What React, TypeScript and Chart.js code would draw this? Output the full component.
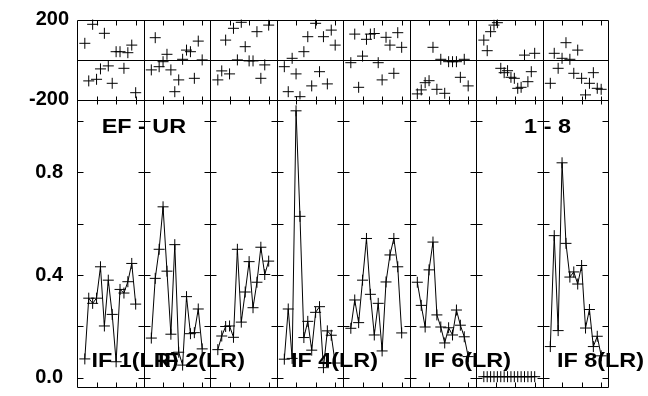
import React, { useEffect, useRef } from 'react';
import { Chart, registerables } from 'chart.js';

Chart.register(...registerables);

// ---------- data ----------
const IF_LABELS = ['IF 1(LR)', 'IF 2(LR)', '', 'IF 4(LR)', '', 'IF 6(LR)', '', 'IF 8(LR)'];
const TITLE_LEFT = 'EF - UR';
const TITLE_RIGHT = '1 - 8';

// channel layout per IF column (channel units)
const COLUMN_SPAN = 17;
const FIRST_CHANNEL = 2;
const CHANNEL_STEP = [1, 1, 1, 1, 1, 1, 0.8667, 1];
const X_MINOR_TICKS = [5, 10, 15];

// residuals (top panel)
const RES_IF1 = [81, -107, 176, -99, -47, 131, -32, -119, 39, 39, -44, 34, 72, -166];
const RES_IF2 = [-52, 109, -36, -11, 26, -52, -161, -102, 1, 47, 39, -94, 92, -2];
const RES_IF3 = [-102, -57, 97, -72, 156, -2, 186, 64, -7, -7, 139, -94, -27, 172];
const RES_IF4 = [-36, -161, 6, -72, -186, 39, 114, -132, 181, -61, 114, -122, 147, 72];
const RES_IF5 = [-16, 127, -139, 17, 101, 127, 130, -16, -102, 111, 72, -69, 134, 61];
const RES_IF6 = [-172, -152, -116, -106, 61, -149, 1, -169, -11, -11, -11, -89, 1, -132];
const RES_IF7 = [97, 44, 139, 172, 184, -44, -66, -56, -89, -94, -144, -139, 22, -111, -61, 31];
const RES_IF8 = [-119, 31, -44, 6, 84, 1, -69, 47, -94, -177, -119, -66, -144, -149];

// amplitudes (bottom panel)
const AMP_IF1 = [0.074, 0.31, 0.29, 0.31, 0.432, 0.202, 0.38, 0.247, 0.063, 0.344, 0.33, 0.374, 0.445, 0.287];
const AMP_IF2 = [0.155, 0.387, 0.5, 0.665, 0.415, 0.17, 0.518, 0.1, 0.05, 0.316, 0.172, 0.176, 0.268, 0.113];
const AMP_IF3 = [0.11, 0.163, 0.2, 0.202, 0.158, 0.5, 0.217, 0.334, 0.452, 0.273, 0.372, 0.508, 0.402, 0.454];
const AMP_IF4 = [0.073, 0.268, 0.076, 1.038, 0.628, 0.157, 0.22, 0.108, 0.255, 0.277, 0.04, 0.183, 0.166, 0.058];
const AMP_IF5 = [0.193, 0.303, 0.215, 0.38, 0.542, 0.325, 0.167, 0.29, 0.105, 0.373, 0.478, 0.542, 0.432, 0.175];
const AMP_IF6 = [0.372, 0.282, 0.198, 0.42, 0.528, 0.245, 0.198, 0.136, 0.195, 0.167, 0.264, 0.205, 0.16, 0.083];
const AMP_IF7 = [0.005, 0.005, 0.005, 0.005, 0.005, 0.005, 0.005, 0.005, 0.005, 0.005, 0.005, 0.005, 0.005, 0.005, 0.005, 0.005];
const AMP_IF8 = [0.122, 0.553, 0.184, 0.836, 0.523, 0.392, 0.412, 0.365, 0.437, 0.194, 0.266, 0.122, 0.162, 0.086];

const RESIDUALS = [RES_IF1, RES_IF2, RES_IF3, RES_IF4, RES_IF5, RES_IF6, RES_IF7, RES_IF8];
const AMPLITUDES = [AMP_IF1, AMP_IF2, AMP_IF3, AMP_IF4, AMP_IF5, AMP_IF6, AMP_IF7, AMP_IF8];

const Y_TOP_TICKS = [-200, 200];
const Y_AMP_TICKS = [0, 0.4, 0.8];
const Y_AMP_MINOR = [0, 0.2, 0.4, 0.6, 0.8, 1.0];

// ---------- helpers ----------
const xFor = (col: number, i: number) => col * COLUMN_SPAN + FIRST_CHANNEL + i * CHANNEL_STEP[col];

const FONT = '"Liberation Sans", Arial, Helvetica, sans-serif';

const framePlugin = {
  id: 'framePlugin',
  beforeDatasetsDraw(chart: any) {
    const ctx = chart.ctx;
    const xs = chart.scales.x;
    const yt = chart.scales.yTop;
    const yb = chart.scales.y;
    const left = Math.round(xs.left) + 0.5;
    const right = Math.round(xs.right) - 0.5;
    const top = Math.round(yt.top) + 0.5;
    const mid = Math.round(yt.bottom) + 0.5;
    const bottom = Math.round(yb.bottom) - 0.5;
    const px = (v: number) => Math.round(xs.getPixelForValue(v)) + 0.5;
    ctx.save();
    ctx.strokeStyle = '#000';
    ctx.lineWidth = 1;
    ctx.beginPath();
    ctx.rect(left, top, right - left, bottom - top);
    ctx.moveTo(left, mid);
    ctx.lineTo(right, mid);
    const z = Math.round(yt.getPixelForValue(0)) + 0.5;
    ctx.moveTo(left, z);
    ctx.lineTo(right, z);
    const nCols = RESIDUALS.length;
    for (let c = 1; c < nCols; c++) {
      const x = px(c * COLUMN_SPAN);
      ctx.moveTo(x, top);
      ctx.lineTo(x, bottom);
    }
    for (let c = 0; c < nCols; c++) {
      for (const t of X_MINOR_TICKS) {
        const x = px(c * COLUMN_SPAN + t);
        ctx.moveTo(x, top);
        ctx.lineTo(x, top + 5);
        ctx.moveTo(x, mid - 4);
        ctx.lineTo(x, mid + 4);
        ctx.moveTo(x, bottom);
        ctx.lineTo(x, bottom - 5);
      }
    }
    for (let c = 0; c <= nCols; c++) {
      const x = c === 0 ? left : c === nCols ? right : px(c * COLUMN_SPAN);
      for (const v of Y_AMP_MINOR) {
        const y = Math.round(yb.getPixelForValue(v)) + 0.5;
        ctx.moveTo(c === 0 ? x : x - 6, y);
        ctx.lineTo(c === nCols ? x : x + 6, y);
      }
    }
    ctx.stroke();
    ctx.restore();
  },
  afterDatasetsDraw(chart: any) {
    const ctx = chart.ctx;
    const xs = chart.scales.x;
    const yb = chart.scales.y;
    const draw = (text: string, xv: number, yv: number) => {
      ctx.save();
      ctx.translate(xs.getPixelForValue(xv), yb.getPixelForValue(yv));
      ctx.scale(1.17, 1);
      ctx.fillText(text, 0, 0);
      ctx.restore();
    };
    ctx.save();
    ctx.fillStyle = '#000';
    ctx.font = `bold 20px ${FONT}`;
    ctx.textAlign = 'left';
    ctx.textBaseline = 'alphabetic';
    draw(TITLE_LEFT, 6.3, 0.95);
    draw(TITLE_RIGHT, 114.3, 0.95);
    IF_LABELS.forEach((lab, c) => {
      if (lab) draw(lab, c * COLUMN_SPAN + 3.7, 0.041);
    });
    ctx.restore();
  },
};

const fitLeftAxis = (s: any) => {
  s.width = 77;
  s.paddingTop = 0;
  s.paddingBottom = 0;
  s.paddingLeft = 0;
  s.paddingRight = 0;
};

export default function App() {
  const ref = useRef<HTMLCanvasElement | null>(null);

  useEffect(() => {
    if (!ref.current) return;
    const datasets: any[] = [];
    AMPLITUDES.forEach((vals, c) => {
      datasets.push({
        data: vals.map((v, i) => ({ x: xFor(c, i), y: v })),
        yAxisID: 'y',
        showLine: true,
        borderColor: '#000',
        borderWidth: 1,
        tension: 0,
        pointStyle: 'cross',
        pointRadius: 5.5,
        pointBorderColor: '#000',
        pointBorderWidth: 1,
        backgroundColor: '#000',
      });
    });
    RESIDUALS.forEach((vals, c) => {
      datasets.push({
        data: vals.map((v, i) => ({ x: xFor(c, i), y: v })),
        yAxisID: 'yTop',
        showLine: false,
        pointStyle: 'cross',
        pointRadius: 5.5,
        pointBorderColor: '#000',
        pointBorderWidth: 1,
        backgroundColor: '#000',
      });
    });

    const tickFont = { family: FONT, size: 20, weight: 'bold' as const };

    const chart = new Chart(ref.current, {
      type: 'scatter',
      data: { datasets },
      options: {
        animation: false,
        responsive: false,
        events: [],
        layout: { padding: { left: 0, top: 19.5, right: 39, bottom: 8 } },
        plugins: { legend: { display: false }, tooltip: { enabled: false } },
        scales: {
          x: {
            type: 'linear',
            min: 0,
            max: COLUMN_SPAN * RESIDUALS.length,
            display: false,
            afterFit: (s: any) => {
              s.paddingLeft = 0;
              s.paddingRight = 0;
            },
          },
          y: {
            type: 'linear',
            position: 'left',
            stack: 'panels',
            stackWeight: 288.5,
            min: -0.039,
            max: 1.082,
            grid: { display: false, drawTicks: false },
            border: { display: false },
            afterBuildTicks: (s: any) => {
              s.ticks = Y_AMP_TICKS.map((v) => ({ value: v }));
            },
            afterFit: fitLeftAxis,
            ticks: {
              autoSkip: false,
              padding: 14,
              color: '#000',
              font: tickFont,
              callback: (v: any) => Number(v).toFixed(1),
            },
          },
          yTop: {
            type: 'linear',
            position: 'left',
            stack: 'panels',
            stackWeight: 80,
            min: -200,
            max: 200,
            grid: { display: false, drawTicks: false },
            border: { display: false },
            afterBuildTicks: (s: any) => {
              s.ticks = Y_TOP_TICKS.map((v) => ({ value: v }));
            },
            afterFit: fitLeftAxis,
            ticks: {
              autoSkip: false,
              padding: 8,
              color: '#000',
              font: tickFont,
              callback: (v: any) => String(v),
            },
          },
        } as any,
      },
      plugins: [framePlugin],
    });
    return () => chart.destroy();
  }, []);

  return (
    <div style={{ position: 'absolute', left: 0, top: 0, width: 648, height: 396, background: '#fff' }}>
      <canvas ref={ref} width={648} height={396} style={{ display: 'block' }} />
    </div>
  );
}
